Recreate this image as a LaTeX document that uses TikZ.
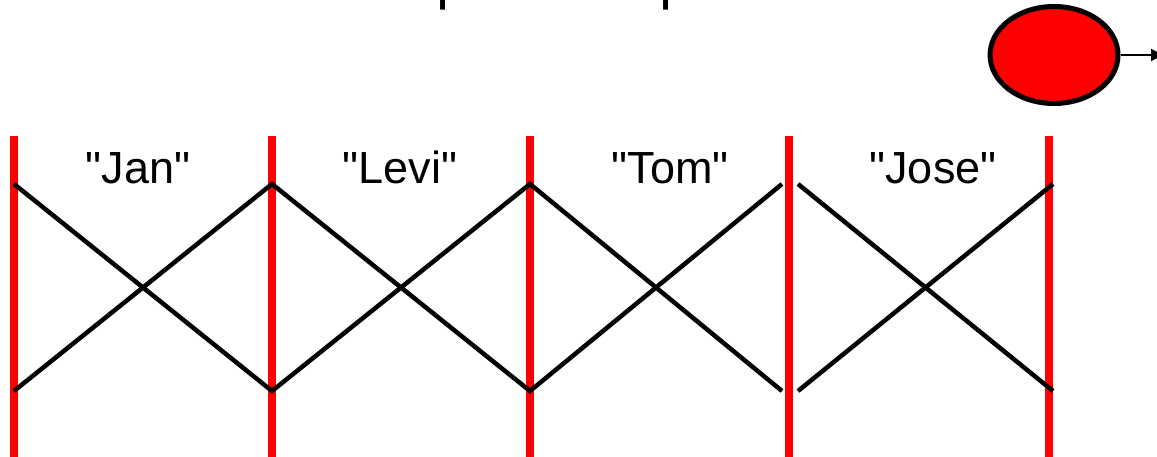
\documentclass[tikz,border=0pt]{standalone}
\usepackage{fontspec}
\setmainfont{Liberation Sans}
\newfontfamily\monofont{Liberation Mono}
\usetikzlibrary{arrows.meta,shapes.geometric}
\newcommand{\sq}{\textquotedbl}
\begin{document}
\begin{tikzpicture}[x=1pt,y=-1pt,
  rail/.style={draw=red,line width=8pt},
  zig/.style={draw=black,line width=4.5pt,line cap=butt},
  lbl/.style={font=\fontsize{45}{50}\selectfont,inner sep=0pt,anchor=base},
  blob/.style={ellipse,draw=black,fill=red,line width=5pt,minimum width=128pt,minimum height=97pt,inner sep=0pt},
  ptr/.style={draw=black,line width=2pt,-{Triangle[length=12pt,width=12pt]}}]
\useasboundingbox (0,0) rectangle (1157,457);
\begin{scope}
\clip (0,0) rectangle (1157,457);
% cut-off text at the top
\node[font=\monofont\fontsize{56}{60}\selectfont,inner sep=0pt,anchor=base] (p1) at (452,-1) {p};
\node[font=\monofont\fontsize{56}{60}\selectfont,inner sep=0pt,anchor=base] (p2) at (675,-1) {p};
% rails
\foreach \i/\x in {0/14,1/272,2/530,3/789,4/1049}{
  \coordinate (rt\i) at (\x,136);
  \coordinate (rb\i) at (\x,460);
  \draw[rail] (rt\i) -- (rb\i);
}
% zigzag endpoints
\coordinate (a0) at (14,184);  \coordinate (b0) at (14,391);
\coordinate (a1) at (272,184); \coordinate (b1) at (272,391);
\coordinate (a2) at (530,184); \coordinate (b2) at (530,391);
\coordinate (a3l) at (782,184); \coordinate (b3l) at (782,391);
\coordinate (a3r) at (798,184); \coordinate (b3r) at (798,391);
\coordinate (a4) at (1053,184); \coordinate (b4) at (1053,391);
\draw[zig] (a0) -- (b1) -- (a2) -- (b3l);
\draw[zig] (b0) -- (a1) -- (b2) -- (a3l);
\draw[zig] (a3r) -- (b4);
\draw[zig] (b3r) -- (a4);
% labels
\node[lbl] (jan) at (138,184) {\sq Jan\sq};
\node[lbl] (levi) at (400,184) {\sq Levi\sq};
\node[lbl] (tom) at (670,184) {\sq Tom\sq};
\node[lbl] (jose) at (933,184) {\sq Jose\sq};
% red blob with pointer
\node[blob] (ball) at (1054,55) {};
\coordinate (tip) at (1163,55);
\draw[ptr] (ball.east) -- (tip);
\end{scope}
\end{tikzpicture}
\end{document}
